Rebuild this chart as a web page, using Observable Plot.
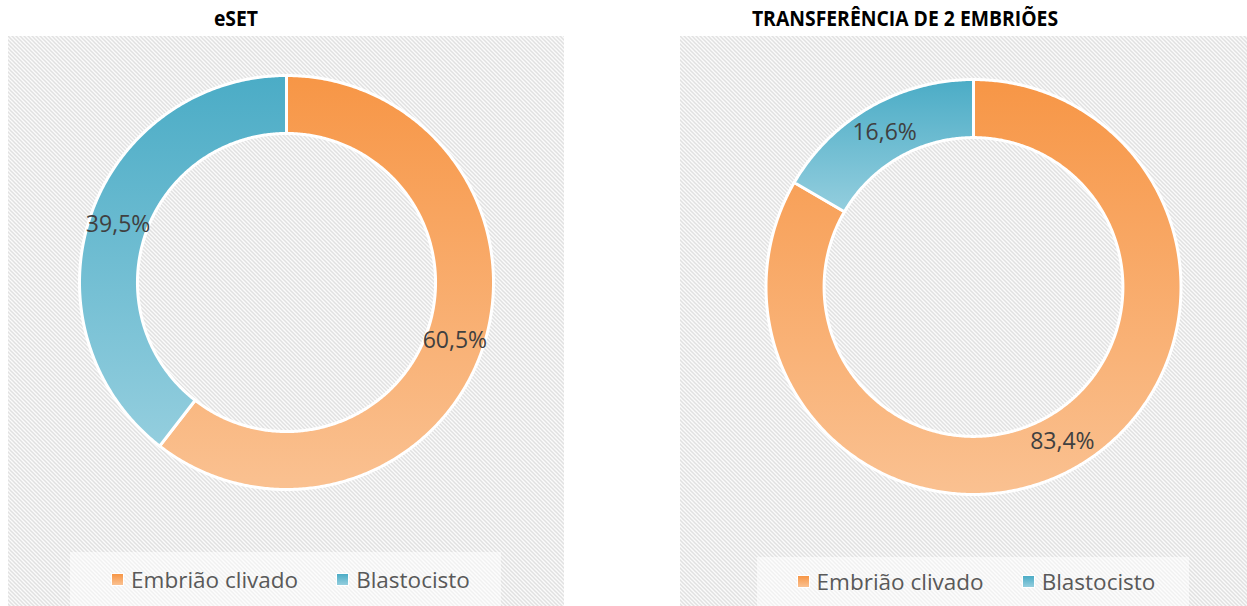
<!DOCTYPE html>
<html>
<head>
<meta charset="utf-8">
<script src="https://cdn.jsdelivr.net/npm/d3@7"></script>
<script src="https://cdn.jsdelivr.net/npm/@observablehq/plot@0.6"></script>
<style>
  html, body { margin: 0; padding: 0; background: #fff; }
  #root { position: relative; width: 1247px; height: 606px; overflow: hidden; font-family: "Open Sans", sans-serif; }
  .panel { position: absolute; top: 36px; height: 570px; background-color: #fbfbfb;
    background-image: url("data:image/svg+xml,%3Csvg xmlns='http://www.w3.org/2000/svg' width='4' height='4'%3E%3Cpath d='M-1,-1L5,5M-1,3L1,5M3,-1L5,1' stroke='%23e1e1e1' stroke-width='1.5'/%3E%3C/svg%3E");
    background-size: 4px 4px; }
  .title { position: absolute; top: 2px; font-weight: 700; font-size: 22px; color: #000; transform: translateX(-50%) scaleX(0.88); white-space: nowrap; }
  .legend { position: absolute; background: rgba(255,255,255,0.55); display: flex; align-items: center; justify-content: center; gap: 38px; }
  .item { display: flex; align-items: center; gap: 7px; font-size: 22.5px; color: #595959; }
  .sw { width: 11px; height: 11px; border: 1.5px solid #fff; }
  .chart { position: absolute; }
</style>
</head>
<body>
<div id="root"></div>
<script>
const categories = ["Embrião clivado", "Blastocisto"];
const chartTitles = ["eSET", "TRANSFERÊNCIA DE 2 EMBRIÕES"];
const esetValues = [60.5, 39.5];
const duplaValues = [83.4, 16.6];
const gradTop = ["#F79646", "#4BACC6"];
const gradBottom = ["#FAC191", "#94CEDE"];

const root = document.getElementById("root");

function fmt(v) { return v.toFixed(1).replace(".", ",") + "%"; }

function donut(values, W, H, cx, cy, r, id) {
  const inner = 0.72;
  const arcs = d3.pie().sort(null).value(d => d)(values);
  const pts = [];
  const labels = [];
  arcs.forEach((a, k) => {
    const n = Math.max(2, Math.ceil((a.endAngle - a.startAngle) / (Math.PI / 360)));
    for (let i = 0; i <= n; i++) {
      const t = a.startAngle + (a.endAngle - a.startAngle) * i / n;
      pts.push({k, x: Math.sin(t), y: Math.cos(t)});
    }
    for (let i = n; i >= 0; i--) {
      const t = a.startAngle + (a.endAngle - a.startAngle) * i / n;
      pts.push({k, x: inner * Math.sin(t), y: inner * Math.cos(t)});
    }
    const m = (a.startAngle + a.endAngle) / 2, rr = (1 + inner) / 2;
    labels.push({x: rr * Math.sin(m), y: rr * Math.cos(m), text: fmt(a.data)});
  });
  const plot = Plot.plot({
    width: W, height: H,
    margin: 0,
    x: {domain: [-cx / r, (W - cx) / r], axis: null},
    y: {domain: [-(H - cy) / r, cy / r], axis: null},
    style: {background: "transparent", overflow: "visible", fontFamily: "Open Sans, sans-serif"},
    marks: [
      ...arcs.map((a, k) => Plot.line(pts.filter(p => p.k === k), {
        x: "x", y: "y", curve: "linear-closed",
        fill: `url(#${id}-${k})`, stroke: "white", strokeWidth: 3, strokeLinejoin: "round"
      })),
      Plot.text(labels, {x: "x", y: "y", text: "text", fontSize: 23, fill: "#404040", fontFamily: "Open Sans, sans-serif"})
    ]
  });
  const ns = "http://www.w3.org/2000/svg";
  const defs = document.createElementNS(ns, "defs");
  categories.forEach((c, k) => {
    const g = document.createElementNS(ns, "linearGradient");
    g.setAttribute("id", `${id}-${k}`);
    g.setAttribute("x1", "0"); g.setAttribute("y1", "0");
    g.setAttribute("x2", "0"); g.setAttribute("y2", "1");
    [[0, gradTop[k]], [1, gradBottom[k]]].forEach(([o, col]) => {
      const s = document.createElementNS(ns, "stop");
      s.setAttribute("offset", o); s.setAttribute("stop-color", col);
      g.appendChild(s);
    });
    defs.appendChild(g);
  });
  plot.insertBefore(defs, plot.firstChild);
  return plot;
}

function panel(left, width, title, titleX, values, cx, cy, r, id, legendBox) {
  const p = document.createElement("div");
  p.className = "panel";
  p.style.left = left + "px"; p.style.width = width + "px";
  root.appendChild(p);
  const t = document.createElement("div");
  t.className = "title"; t.textContent = title; t.style.left = titleX + "px";
  root.appendChild(t);
  const H = 515;
  const c = document.createElement("div");
  c.className = "chart"; c.style.left = left + "px"; c.style.top = "36px";
  c.appendChild(donut(values, width, H, cx - left, cy - 36, r, id));
  root.appendChild(c);
  const lg = document.createElement("div");
  lg.className = "legend";
  lg.style.left = legendBox[0] + "px"; lg.style.top = legendBox[1] + "px";
  lg.style.width = legendBox[2] + "px"; lg.style.height = legendBox[3] + "px";
  lg.style.paddingLeft = legendBox[4] + "px"; lg.style.boxSizing = "border-box";
  categories.forEach((cat, k) => {
    const it = document.createElement("div"); it.className = "item";
    const sw = document.createElement("div"); sw.className = "sw";
    sw.style.background = `linear-gradient(${gradTop[k]}, ${gradBottom[k]})`;
    const tx = document.createElement("span"); tx.textContent = cat;
    it.appendChild(sw); it.appendChild(tx); lg.appendChild(it);
  });
  root.appendChild(lg);
}

panel(8, 556, chartTitles[0], 236, esetValues, 286, 282, 207, "ga", [70, 552, 431, 54, 10]);
panel(680, 567, chartTitles[1], 905, duplaValues, 973, 286.5, 207.5, "gb", [757, 557, 432, 49, 6]);
</script>
</body>
</html>
